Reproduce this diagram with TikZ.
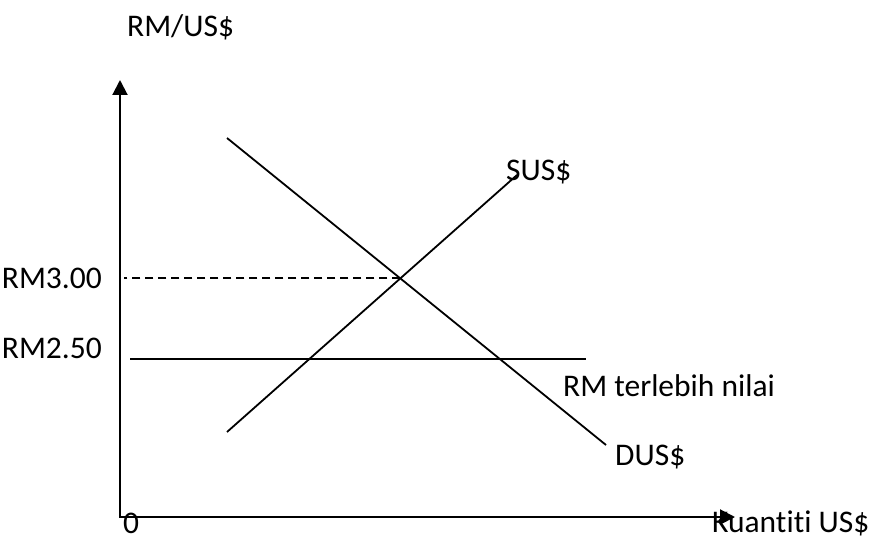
\documentclass[tikz,border=0pt]{standalone}
\usepackage{fontspec}
\setmainfont{Carlito}[Ligatures=NoCommon]
\usetikzlibrary{arrows.meta}
\tikzset{
  lbl/.style={inner sep=0pt,font=\fontsize{31.5}{36}\selectfont},
  axis/.style={line width=2pt,{Triangle[length=15pt,width=15pt]}-{Triangle[length=15pt,width=15pt]}},
  curve/.style={line width=1.8pt},
}
\begin{document}
\begin{tikzpicture}[x=1pt,y=-1pt]
	  \useasboundingbox (0,0) rectangle (873,540);
	  % axes
	  \coordinate (O) at (120,517);
	  \coordinate (Ytip) at (120,80);
	  \coordinate (Xtip) at (735,517);
	  \draw[axis] (Ytip) -- (O) -- (Xtip);
	  \node[lbl,anchor=base west] (ylab) at (127,37) {RM/US\$};
	  \node[lbl,anchor=base west] (xlab) at (712,532) {Kuantiti US\$};
	  \node[lbl,anchor=base west] (zero) at (123,533) {0};
	  % demand and supply
	  \coordinate (D1) at (227,138);
	  \coordinate (D2) at (606,445);
	  \coordinate (S1) at (227,432);
	  \coordinate (S2) at (517,175);
	  \begin{scope}[curve]
	    \draw (D1) -- (D2);
	    \draw (S1) -- (S2);
	    \coordinate (E) at (intersection of D1--D2 and S1--S2);
	    \draw[dash pattern=on 8pt off 5pt,shorten >=4pt] (E) -- (O|-E);
	    \coordinate (H1) at (130,359);
	    \coordinate (H2) at (586,359);
	    \draw (H1) -- (H2);
	  \end{scope}
	  \node[lbl,anchor=base west] (slab) at (506,181) {SUS\$};
	  \node[lbl,anchor=base west] (dlab) at (615,465) {DUS\$};
	  \node[lbl,anchor=base west] (over) at (563,396) {RM terlebih nilai};
	  \node[lbl,anchor=base east] (p300) at (102,288) {RM3.00};
	  \node[lbl,anchor=base east] (p250) at (102,358) {RM2.50};
	\end{tikzpicture}
\end{document}
